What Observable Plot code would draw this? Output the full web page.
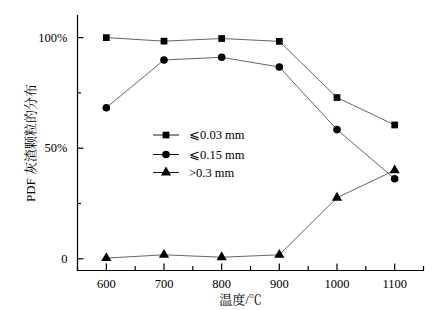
<!DOCTYPE html>
<html>
<head>
<meta charset="utf-8">
<script src="https://cdn.jsdelivr.net/npm/d3@7"></script>
<script src="https://cdn.jsdelivr.net/npm/@observablehq/plot@0.6"></script>
<style>
  html, body { margin: 0; padding: 0; background: #fff; }
  #wrap { position: relative; width: 444px; height: 310px; }
  #legend { position: absolute; left: 0; top: 0; }
</style>
</head>
<body>
<div id="wrap"></div>
<script>
const temps = [600, 700, 800, 900, 1000, 1100];
const fine = [100, 98.4, 99.6, 98.3, 72.9, 60.5];      // ≤0.03 mm
const medium = [68.3, 89.9, 91.1, 86.7, 58.4, 36.2];   // ≤0.15 mm
const coarse = [0.3, 1.8, 0.7, 1.8, 27.6, 40.0];       // >0.3 mm
const seriesNames = ["⩽0.03 mm", "⩽0.15 mm", ">0.3 mm"];
const seriesSymbols = ["square", "circle", "triangle"];
const xMajorTicks = [600, 700, 800, 900, 1000, 1100];
const xMinorTicks = [550, 650, 750, 850, 950, 1050, 1150];
const yMajorTicks = [0, 50, 100];
const yTickLabels = ["0", "50%", "100%"];
const yMinorTicks = [25, 75];

const rows = [];
[fine, medium, coarse].forEach((vals, i) => {
  vals.forEach((v, j) => rows.push({series: seriesNames[i], symbol: seriesSymbols[i], t: temps[j], v}));
});

const font = "'Liberation Serif', 'Noto Serif CJK SC', 'Noto Sans CJK SC', serif";
const W = 444, H = 310, mL = 77, mR = 21, mT = 15, mB = 40;
const pw = W - mL - mR, ph = H - mT - mB;

const chart = Plot.plot({
  width: W,
  height: H,
  marginLeft: mL,
  marginRight: mR,
  marginTop: mT,
  marginBottom: mB,
  style: {fontFamily: font, fontSize: "12px", color: "#000", background: "#fff"},
  x: {domain: [550, 1150]},
  y: {domain: [-5.3, 110]},
  marks: [
    Plot.frame({anchor: "left", stroke: "#000", strokeWidth: 1.2}),
    Plot.frame({anchor: "bottom", stroke: "#000", strokeWidth: 1.2}),
    Plot.axisX({ticks: xMajorTicks, tickSize: 0, tickPadding: 9, fontSize: 12.5, tickFormat: "d", label: "温度/℃", labelAnchor: "center", labelOffset: 33, labelArrow: "none"}),
    Plot.axisY({ticks: yMajorTicks, tickSize: 0, tickPadding: 10, fontSize: 12.5, tickFormat: (d) => yTickLabels[yMajorTicks.indexOf(d)], label: "PDF 灰渣颗粒的分布", labelAnchor: "center", labelOffset: 52, labelArrow: "none"}),
    // inward ticks
    Plot.tickX(xMajorTicks, {x: (d) => d, insetTop: ph - 6.5, stroke: "#000", strokeWidth: 1.2}),
    Plot.tickX(xMinorTicks, {x: (d) => d, insetTop: ph - 4, stroke: "#000", strokeWidth: 1.2}),
    Plot.tickY(yMajorTicks, {y: (d) => d, insetRight: pw - 6.5, stroke: "#000", strokeWidth: 1.2}),
    Plot.tickY(yMinorTicks, {y: (d) => d, insetRight: pw - 4, stroke: "#000", strokeWidth: 1.2}),
    Plot.line(rows, {x: "t", y: "v", z: "series", stroke: "#555", strokeWidth: 0.9}),
    Plot.dot(rows, {x: "t", y: "v", symbol: "symbol", fill: "#000", stroke: "none", r: 3.8})
  ]
});

document.getElementById("wrap").appendChild(chart);

d3.select(chart).selectAll("[aria-label='x-axis label'] text").attr("dx", -10).style("font-size", "13px");
d3.select(chart).selectAll("[aria-label='y-axis label'] text").style("font-size", "13px");

// legend overlay
const leg = d3.select("#wrap").append("svg")
  .attr("id", "legend").attr("width", W).attr("height", H)
  .style("font-family", font).style("font-size", "12.5px");
const legY = [135, 154.5, 172.5];
seriesNames.forEach((name, i) => {
  const g = leg.append("g").attr("transform", `translate(153,${legY[i]})`);
  g.append("line").attr("x1", 0).attr("x2", 26).attr("stroke", "#000").attr("stroke-width", 0.9);
  const sym = {square: d3.symbolSquare, circle: d3.symbolCircle, triangle: d3.symbolTriangle}[seriesSymbols[i]];
  g.append("path").attr("d", d3.symbol(sym, Math.PI * 3.8 * 3.8)()).attr("transform", "translate(13,0)").attr("fill", "#000");
  g.append("text").attr("x", 36).attr("dy", "0.35em").text(name);
});
</script>
</body>
</html>
